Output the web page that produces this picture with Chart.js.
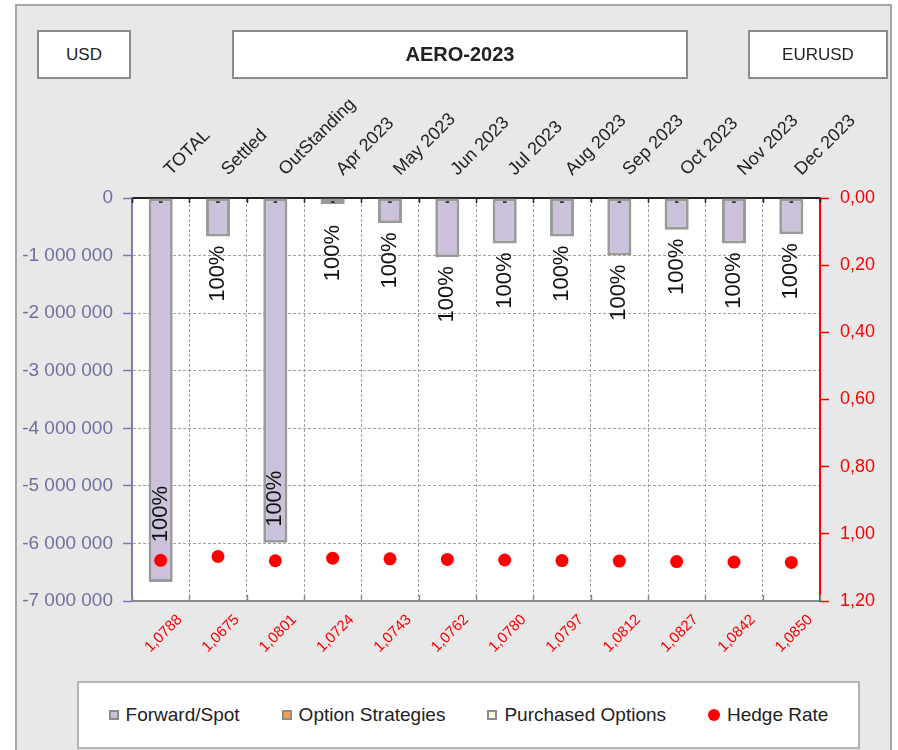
<!DOCTYPE html>
<html>
<head>
<meta charset="utf-8">
<script src="https://cdn.jsdelivr.net/npm/chart.js@4.4.0/dist/chart.umd.min.js"></script>
<style>
body{margin:0;background:#fff;font-family:"Liberation Sans",Arial,sans-serif;overflow:hidden;width:898px;height:750px;}
#frame{position:absolute;left:15px;top:4px;width:877px;height:770px;border:2px solid #a6a6a6;background:#e8e8e8;box-sizing:border-box;}
#c{position:absolute;left:0;top:0;}
.box{position:absolute;top:30px;height:49px;background:#fff;border:2px solid #8c8c8c;box-sizing:border-box;display:flex;align-items:center;justify-content:center;font-size:17px;color:#222;}
#legend{position:absolute;left:77px;top:681px;width:783px;height:68px;background:#fff;border:2px solid #b4b4b4;box-sizing:border-box;display:flex;align-items:center;justify-content:center;gap:42px;font-size:19px;color:#222;}
.lg{display:flex;align-items:center;gap:7px;}
.sw{width:10px;height:10px;box-sizing:border-box;border:2px solid #8c8c8c;}
.dot{width:12px;height:12px;border-radius:50%;}
</style>
</head>
<body>
<div id="frame"></div>
<canvas id="c" width="898" height="750"></canvas>
<div class="box" style="left:37px;width:94px">USD</div>
<div class="box" style="left:232px;width:456px;font-weight:bold;font-size:20px">AERO-2023</div>
<div class="box" style="left:748px;width:140px">EURUSD</div>
<div id="legend"></div>
<script>
const categories=['TOTAL','Settled','OutStanding','Apr 2023','May 2023','Jun 2023','Jul 2023','Aug 2023','Sep 2023','Oct 2023','Nov 2023','Dec 2023'];
const forwardSpot=[-6670000,-670000,-5990000,-110000,-440000,-1030000,-790000,-670000,-1000000,-550000,-790000,-630000];
const optionStrategies=[0,0,0,0,0,0,0,0,0,0,0,0];
const purchasedOptions=[0,0,0,0,0,0,0,0,0,0,0,0];
const hedgeRate=[1.0788,1.0675,1.0801,1.0724,1.0743,1.0762,1.0780,1.0797,1.0812,1.0827,1.0842,1.0850];
const amountTicks=[0,-1000000,-2000000,-3000000,-4000000,-5000000,-6000000,-7000000];
const rateTicks=[0,0.2,0.4,0.6,0.8,1.0,1.2];

const FONT='"Liberation Sans", Arial, sans-serif';
const fmtAmt=v=>(v<0?'-':'')+String(Math.abs(v)).replace(/\B(?=(\d{3})+(?!\d))/g,' ');
const fmtDec=(v,n)=>v.toFixed(n).replace('.',',');

// white plot area
const plotBg={id:'plotBg',beforeDraw(chart){
  const {ctx,chartArea:a}=chart;
  ctx.save();ctx.fillStyle='#fff';ctx.fillRect(a.left,a.top,a.right-a.left,a.bottom-a.top);ctx.restore();
}};

// small inward tick marks on top and bottom axes
const innerTicks={id:'innerTicks',afterDraw(chart){
  const {ctx,chartArea:a}=chart,x=chart.scales.x;
  const half=(x.getPixelForValue(1)-x.getPixelForValue(0))/2;
  ctx.save();ctx.lineWidth=1.5;
  for(let i=0;i<=categories.length;i++){
    const px=Math.round(x.getPixelForValue(0)-half+i*half*2)+0.5;
    ctx.strokeStyle='#222';ctx.beginPath();ctx.moveTo(px,a.top);ctx.lineTo(px,a.top+5);ctx.stroke();
    ctx.strokeStyle='#8c8c8c';ctx.beginPath();ctx.moveTo(px,a.bottom);ctx.lineTo(px,a.bottom-6);ctx.stroke();
  }
  ctx.restore();
}};

// data labels: share of forward/spot, "-" for empty series
const barLabels={id:'barLabels',afterDatasetsDraw(chart){
  const {ctx,chartArea}=chart;
  const bars=chart.getDatasetMeta(0).data,dots=chart.getDatasetMeta(3).data;
  const zeroY=chart.scales.y.getPixelForValue(0);
  ctx.save();
  bars.forEach((bar,i)=>{
    const tot=forwardSpot[i]+optionStrategies[i]+purchasedOptions[i];
    const txt=tot?Math.round(forwardSpot[i]/tot*100)+'%':'';
    ctx.font='22px '+FONT;
    const w=ctx.measureText(txt).width;
    let start=Math.max(bar.y+9,chartArea.top+27);
    if(start+w>dots[i].y-18)start=Math.min(bar.y-16,dots[i].y-18)-w;
    ctx.save();
    ctx.translate(bar.x,start+w/2);ctx.rotate(-Math.PI/2);
    ctx.fillStyle='#111';ctx.textAlign='center';ctx.textBaseline='middle';
    ctx.fillText(txt,0,0);
    ctx.restore();
  });
  [1,2].forEach(di=>{
    const vals=chart.data.datasets[di].data;
    chart.getDatasetMeta(di).data.forEach((el,i)=>{
      if(vals[i]!==0)return;
      ctx.font='bold 13px '+FONT;ctx.fillStyle='#333';ctx.textAlign='center';ctx.textBaseline='middle';
      ctx.fillText('-',el.x,zeroY+4);
    });
  });
  ctx.restore();
}};

const chart=new Chart(document.getElementById('c'),{
  type:'bar',
  data:{
    labels:categories,
    datasets:[
      {label:'Forward/Spot',data:forwardSpot,backgroundColor:'#cbc1da',borderColor:'#9a9a9a',borderWidth:3,borderSkipped:false,barPercentage:0.42,categoryPercentage:1,xAxisID:'x',yAxisID:'y'},
      {label:'Option Strategies',data:optionStrategies,backgroundColor:'#f7a33c',borderColor:'#9a9a9a',borderWidth:2,barPercentage:0.42,categoryPercentage:1,xAxisID:'x',yAxisID:'y'},
      {label:'Purchased Options',data:purchasedOptions,backgroundColor:'#fdfbe0',borderColor:'#9a9a9a',borderWidth:2,barPercentage:0.42,categoryPercentage:1,xAxisID:'x',yAxisID:'y'},
      {type:'line',label:'Hedge Rate',data:hedgeRate,showLine:false,pointRadius:6.5,pointHoverRadius:6.5,backgroundColor:'#ff0000',borderColor:'#ff0000',pointBorderWidth:0,xAxisID:'x',yAxisID:'y2',order:-1}
    ]
  },
  options:{
    responsive:false,animation:false,
    layout:{padding:0},
    plugins:{legend:{display:false},tooltip:{enabled:false}},
    scales:{
      x:{type:'category',position:'top',stacked:true,offset:true,
        grid:{display:true,drawOnChartArea:true,drawTicks:false,offset:true,color:'#a0a0a0',lineWidth:1},
        border:{display:true,color:'#222',width:2,dash:[3,2]},
        ticks:{color:'#222',font:{family:FONT,size:18},minRotation:45,maxRotation:45,autoSkip:false,padding:18,labelOffset:22},
        afterFit:s=>{s.height=198;}},
      x2:{type:'category',position:'bottom',labels:hedgeRate.map(v=>fmtDec(v,4)),offset:true,
        grid:{display:false,drawTicks:false},
        border:{display:true,color:'#8c8c8c',width:2},
        ticks:{color:'#ff0000',font:{family:FONT,size:15},minRotation:45,maxRotation:45,autoSkip:false,padding:10,labelOffset:19},
        afterFit:s=>{s.height=149;}},
      y:{position:'left',stacked:true,min:-7000000,max:0,
        afterBuildTicks:s=>{s.ticks=amountTicks.map(v=>({value:v}));},
        grid:{color:'#a0a0a0',lineWidth:1,tickLength:9,tickColor:'#7b7bb0',tickWidth:1.5},
        border:{display:true,color:'#7b7bb0',width:2,dash:[3,2]},
        ticks:{color:'#6f6fa0',font:{family:FONT,size:19},padding:10,callback:v=>fmtAmt(v)},
        afterFit:s=>{s.width=132;}},
      y2:{position:'right',min:0,max:1.2,reverse:true,
        afterBuildTicks:s=>{s.ticks=rateTicks.map(v=>({value:v}));},
        grid:{drawOnChartArea:false,tickLength:9,tickColor:'#ff0000',tickWidth:1.5},
        border:{display:true,color:'#ff0000',width:2},
        ticks:{color:'#ff0000',font:{family:FONT,size:18},padding:11,callback:v=>fmtDec(v,2)},
        afterFit:s=>{s.width=78;}}
    }
  },
  plugins:[plotBg,innerTicks,barLabels]
});

// legend built from the datasets
document.getElementById('legend').innerHTML=chart.data.datasets.map(d=>{
  const sw=d.type==='line'
    ?`<span class="dot" style="background:${d.backgroundColor}"></span>`
    :`<span class="sw" style="background:${d.backgroundColor}"></span>`;
  return `<span class="lg">${sw}<span>${d.label}</span></span>`;
}).join('');
</script>
</body>
</html>
